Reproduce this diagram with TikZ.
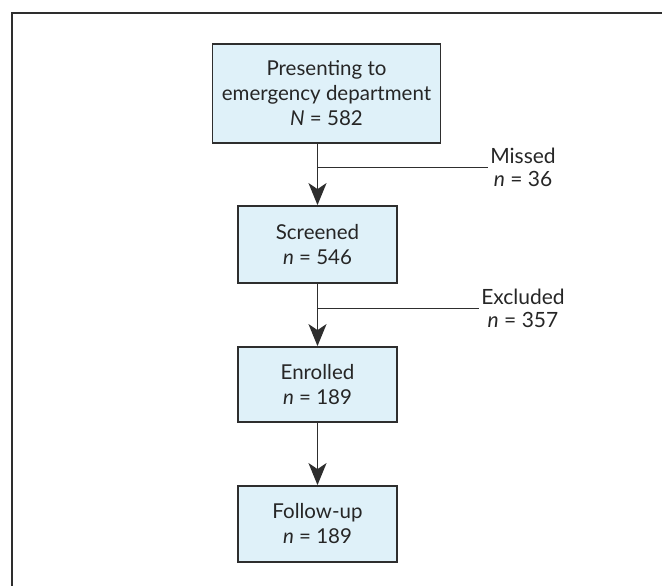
\documentclass[tikz,border=0pt]{standalone}
\usepackage{fontspec}
\setmainfont{Lato}
\usetikzlibrary{arrows.meta}
\definecolor{boxfill}{HTML}{DFF1F9}
\definecolor{framecol}{HTML}{2E2E2E}
\definecolor{textcol}{HTML}{262626}
\tikzset{
  flowbox/.style={draw=framecol, line width=1.8pt, fill=boxfill, align=center, inner sep=0pt,
    font=\fontsize{20.5}{25}\selectfont, text=textcol},
  sidelabel/.style={align=center, inner sep=2pt, font=\fontsize{21}{22.5}\selectfont, text=textcol},
  flowarrow/.style={draw=framecol, line width=1.6pt, -{Stealth[length=22pt,width=18pt,inset=6pt]}},
  branch/.style={draw=framecol, line width=1.6pt}
}
\begin{document}
\begin{tikzpicture}[x=1pt,y=-1pt]
\useasboundingbox (0,0) rectangle (662,586);
\draw[framecol, line width=2.2pt] (12,586) -- (12,13) -- (662,13);
\node[flowbox, minimum width=228pt, minimum height=99pt] (b1) at (326.5,93.5)
  {Presenting to\\emergency department\\\textit{N} = 582};
\node[flowbox, minimum width=159pt, minimum height=77pt] (b2) at (317.5,244.5)
  {Screened\\\textit{n} = 546};
\node[flowbox, minimum width=159pt, minimum height=75pt] (b3) at (317.5,384.5)
  {Enrolled\\\textit{n} = 189};
\node[flowbox, minimum width=159pt, minimum height=76pt] (b4) at (317.5,524)
  {Follow-up\\\textit{n} = 189};
\node[sidelabel] (l1) at (523,167.5) {Missed\\\textit{n} = 36};
\node[sidelabel] (l2) at (523,308.5) {Excluded\\\textit{n} = 357};
\draw[flowarrow] (b2.north |- b1.south) -- (b2.north);
\draw[branch] (b2.north |- l1.west) -- (l1.west);
\draw[flowarrow] (b2.south) -- (b3.north);
\draw[branch] (b2.south |- l2.west) -- (l2.west);
\draw[flowarrow] (b3.south) -- (b4.north);
\end{tikzpicture}
\end{document}
